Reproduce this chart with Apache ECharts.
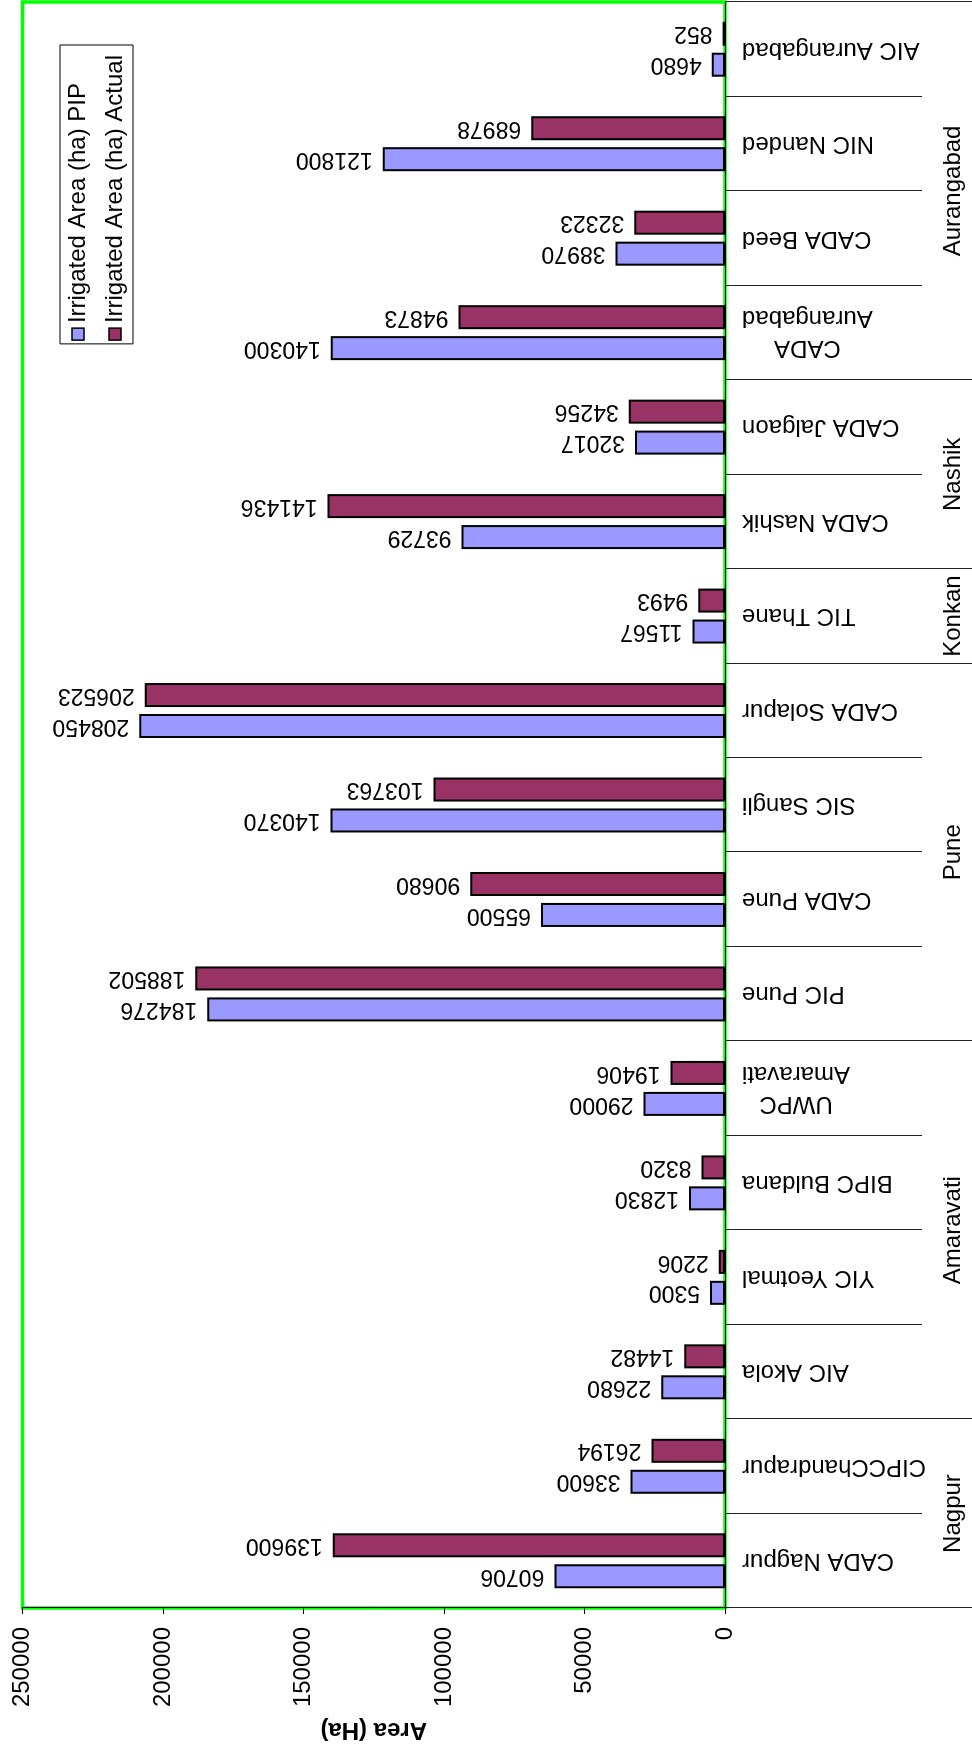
<!DOCTYPE html>
<html>
<head>
<meta charset="utf-8">
<script src="https://cdn.jsdelivr.net/npm/echarts@6/dist/echarts.min.js"></script>
<style>
  html, body { margin: 0; padding: 0; background: #fff; }
  #page { position: relative; width: 972px; height: 1752px; overflow: hidden; background: #fff; }
  /* column chart laid out landscape, then turned a quarter turn counter-clockwise */
  #chart {
    position: absolute; left: 0; top: 0;
    width: 1752px; height: 972px;
    transform-origin: 0 0;
    transform: translateY(1752px) rotate(-90deg);
  }
</style>
</head>
<body>
<div id="page"><div id="chart"></div></div>
<script>
// Irrigation circles, grouped by region
const categories = [
  'CADA Nagpur', 'CIPCChandrapur',
  'AIC Akola', 'YIC Yeotmal', 'BIPC Buldana', 'UWPC\nAmaravati',
  'PIC Pune', 'CADA Pune', 'SIC Sangli', 'CADA Solapur',
  'TIC Thane',
  'CADA Nashik', 'CADA Jalgaon',
  'CADA\nAurangabad', 'CADA Beed', 'NIC Nanded', 'AIC Aurangabad'
];
const pipArea = [
  60706, 33600,
  22680, 5300, 12830, 29000,
  184276, 65500, 140370, 208450,
  11567,
  93729, 32017,
  140300, 38970, 121800, 4680
];
const actualArea = [
  139600, 26194,
  14482, 2206, 8320, 19406,
  188502, 90680, 103763, 206523,
  9493,
  141436, 34256,
  94873, 32323, 68978, 852
];
const regions = ['Nagpur', 'Amaravati', 'Pune', 'Konkan', 'Nashik', 'Aurangabad'];
const regionSizes = [2, 4, 4, 1, 2, 4];
const seriesNames = ['Irrigated Area (ha) PIP', 'Irrigated Area (ha) Actual'];
const axisMin = 0, axisMax = 250000, axisStep = 50000;

// region boundaries and centres in category units
const regionEdges = [0];
const regionCenters = [];
regionSizes.forEach(function (n) {
  const start = regionEdges[regionEdges.length - 1];
  regionCenters.push(start + n / 2);
  regionEdges.push(start + n);
});

const FONT = "'Liberation Sans', Arial, Helvetica, sans-serif";

const chart = echarts.init(document.getElementById('chart'), null, {
  renderer: 'canvas', width: 1752, height: 972
});

const barLabel = {
  show: true,
  position: 'top',
  distance: 10,
  rotate: 90,
  align: 'left',
  verticalAlign: 'middle',
  fontSize: 23,
  fontFamily: FONT,
  color: '#000'
};

chart.setOption({
  animation: false,
  backgroundColor: '#fff',
  textStyle: { fontFamily: FONT, color: '#000' },
  grid: {
    left: 144, right: 2, top: 22.5, bottom: 247,
    show: true,
    borderColor: '#00ff00',
    borderWidth: 3.5,
    backgroundColor: 'transparent',
    outerBoundsMode: 'none'
  },
  legend: {
    data: seriesNames,
    orient: 'vertical',
    right: 45, top: 60,
    icon: 'rect',
    itemWidth: 12, itemHeight: 12,
    itemGap: 13,
    padding: [6, 10, 6, 3],
    borderColor: '#000', borderWidth: 1,
    backgroundColor: '#fff',
    itemStyle: { borderWidth: 1.5, borderColor: '#000' },
    textStyle: { fontSize: 24, color: '#000', fontFamily: FONT }
  },
  xAxis: [
    {
      type: 'category',
      data: categories,
      position: 'bottom',
      axisLine: { show: true, lineStyle: { color: '#000', width: 1 } },
      axisTick: { show: true, interval: 0, length: 197, lineStyle: { color: '#222', width: 1 } },
      axisLabel: {
        interval: 0,
        rotate: 90,
        margin: 17,
        color: '#000',
        fontSize: 24,
        fontFamily: FONT,
        formatter: function (v) {
          return v.split('\n').map(function (s) { return '{c|' + s + '}'; }).join('\n');
        },
        rich: { c: { align: 'center', fontSize: 24, lineHeight: 30, color: '#000', fontFamily: FONT } }
      },
      splitLine: { show: false }
    },
    {
      type: 'value',
      min: 0, max: categories.length,
      position: 'bottom',
      axisLine: { show: false },
      splitLine: { show: false },
      axisTick: { show: true, customValues: regionEdges, length: 247, lineStyle: { color: '#222', width: 1 } },
      axisLabel: {
        customValues: regionCenters,
        margin: 228,
        verticalAlign: 'middle',
        color: '#000',
        fontSize: 24,
        fontFamily: FONT,
        formatter: function (v) { return regions[regionCenters.indexOf(v)] || ''; }
      }
    }
  ],
  yAxis: {
    type: 'value',
    min: axisMin, max: axisMax, interval: axisStep,
    name: 'Area (Ha)',
    nameLocation: 'middle',
    nameRotate: 90,
    nameGap: 110,
    nameTextStyle: { fontSize: 24, fontWeight: 'bold', color: '#000', fontFamily: FONT },
    axisLine: { show: true, lineStyle: { color: '#000', width: 1 } },
    axisTick: { show: true, inside: false, length: 6, lineStyle: { color: '#000' } },
    splitLine: { show: false },
    axisLabel: {
      margin: 19, fontSize: 24, color: '#000', fontFamily: FONT,
      formatter: function (v) { return String(v); }
    }
  },
  series: [
    {
      name: seriesNames[0],
      type: 'bar',
      xAxisIndex: 0,
      data: pipArea,
      barWidth: 24,
      barGap: '29%',
      itemStyle: { color: '#9999ff', borderColor: '#000', borderWidth: 2 },
      label: barLabel
    },
    {
      name: seriesNames[1],
      type: 'bar',
      xAxisIndex: 0,
      data: actualArea,
      barWidth: 24,
      barGap: '29%',
      itemStyle: { color: '#993366', borderColor: '#000', borderWidth: 2 },
      label: barLabel
    }
  ]
});
</script>
</body>
</html>
